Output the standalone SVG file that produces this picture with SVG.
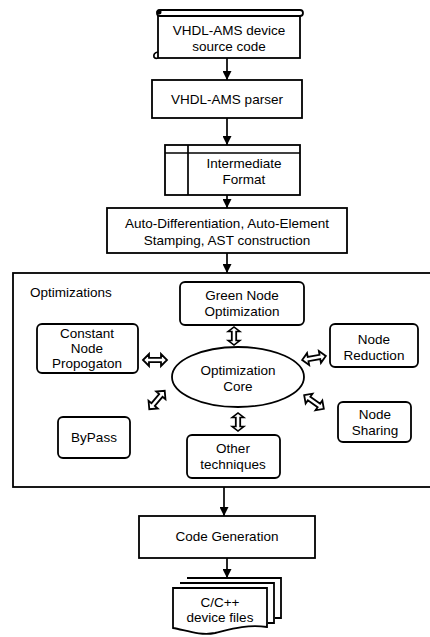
<svg xmlns="http://www.w3.org/2000/svg" width="430" height="637" viewBox="0 0 430 637">
<defs>
<style>
.b{fill:#fff;stroke:#000;stroke-width:1.8}
.t{font-family:"Liberation Sans",Arial,sans-serif;font-size:13.5px;fill:#000;text-anchor:middle}
.l{stroke:#000;stroke-width:1.7;fill:none}
.d{fill:#fff;stroke:#000;stroke-width:1.8;stroke-linejoin:miter}
</style>
<marker id="ah" viewBox="0 0 10 10" refX="10" refY="5" markerWidth="9" markerHeight="9" markerUnits="userSpaceOnUse" orient="auto">
<path d="M0,0 L10,5 L0,10 Z" fill="#000"/>
</marker>
<path id="dbl" d="M-12,0 L-6,-6 L-6,-2.2 L6,-2.2 L6,-6 L12,0 L6,6 L6,2.2 L-6,2.2 L-6,6 Z"/>
</defs>
<rect width="430" height="637" fill="#fff"/>

<g id="source">
<rect class="b" x="158" y="15" width="142" height="43"/>
<rect class="b" x="157" y="10" width="146" height="6" rx="3"/>
<circle cx="159" cy="12" r="2.5" fill="#000"/>
<path class="l" d="M158,52 q-5,1 -4,5 q1,2 4,1"/>
<text class="t" x="229" y="35">VHDL-AMS device</text>
<text class="t" x="229" y="51">source code</text>
</g>

<g id="parser">
<rect class="b" x="152" y="80" width="150" height="38"/>
<text class="t" x="227" y="104">VHDL-AMS parser</text>
</g>

<g id="intermediate">
<rect class="b" x="165" y="145" width="135" height="50"/>
<line class="l" x1="165" y1="153" x2="300" y2="153"/>
<line class="l" x1="188" y1="145" x2="188" y2="195"/>
<text class="t" x="244" y="168">Intermediate</text>
<text class="t" x="244" y="184">Format</text>
</g>

<g id="autodiff">
<rect class="b" x="107" y="208" width="240" height="45"/>
<text class="t" x="227" y="228">Auto-Differentiation, Auto-Element</text>
<text class="t" x="227" y="245">Stamping, AST construction</text>
</g>

<g id="optimizations">
<rect class="b" x="13" y="273" width="425" height="214"/>
<text class="t" x="30" y="297" style="text-anchor:start">Optimizations</text>
</g>

<g id="green">
<rect class="b" x="180" y="282" width="124" height="43" rx="5"/>
<text class="t" x="242" y="300">Green Node</text>
<text class="t" x="242" y="316">Optimization</text>
</g>

<g id="constant">
<rect class="b" x="37" y="324" width="101" height="49" rx="5"/>
<text class="t" x="87" y="338">Constant</text>
<text class="t" x="87" y="353">Node</text>
<text class="t" x="87" y="368">Propogaton</text>
</g>

<g id="reduction">
<rect class="b" x="330" y="324" width="88" height="43" rx="5"/>
<text class="t" x="374" y="344">Node</text>
<text class="t" x="374" y="360">Reduction</text>
</g>

<g id="core">
<ellipse class="b" cx="238" cy="377" rx="66" ry="30"/>
<text class="t" x="238" y="375">Optimization</text>
<text class="t" x="238" y="391">Core</text>
</g>

<g id="bypass">
<rect class="b" x="58" y="417" width="72" height="41" rx="5"/>
<text class="t" x="94" y="442">ByPass</text>
</g>

<g id="sharing">
<rect class="b" x="338" y="402" width="73" height="40" rx="5"/>
<text class="t" x="375" y="419">Node</text>
<text class="t" x="375" y="435">Sharing</text>
</g>

<g id="other">
<rect class="b" x="187" y="435" width="93" height="43" rx="5"/>
<text class="t" x="233" y="453">Other</text>
<text class="t" x="233" y="469">techniques</text>
</g>

<g id="codegen">
<rect class="b" x="139" y="516" width="176" height="42"/>
<text class="t" x="227" y="541">Code Generation</text>
</g>

<g id="files">
<path class="b" d="M187,578 H281 V618 H275"/>
<path class="b" d="M180,583 H274 V623 H268"/>
<path class="b" d="M173,588 H267 V627 C245,624 228,630 215,633 C200,636 185,630 173,628 Z"/>
<text class="t" x="220" y="607">C/C++</text>
<text class="t" x="220" y="622">device files</text>
</g>

<g id="connectors">
<line class="l" x1="227" y1="58" x2="227" y2="80" marker-end="url(#ah)"/>
<line class="l" x1="227" y1="118" x2="227" y2="145" marker-end="url(#ah)"/>
<line class="l" x1="227" y1="195" x2="227" y2="208" marker-end="url(#ah)"/>
<line class="l" x1="227" y1="253" x2="227" y2="273" marker-end="url(#ah)"/>
<line class="l" x1="224" y1="487" x2="224" y2="516" marker-end="url(#ah)"/>
<line class="l" x1="227" y1="558" x2="227" y2="578" marker-end="url(#ah)"/>
<use href="#dbl" class="d" transform="translate(234,336) rotate(90) scale(0.75,1)"/>
<use href="#dbl" class="d" transform="translate(238,422) rotate(90) scale(0.75,1)"/>
<use href="#dbl" class="d" transform="translate(155,360)"/>
<use href="#dbl" class="d" transform="translate(314,358) rotate(-10)"/>
<use href="#dbl" class="d" transform="translate(157,400) rotate(-50)"/>
<use href="#dbl" class="d" transform="translate(314,402) rotate(35)"/>
</g>
</svg>
